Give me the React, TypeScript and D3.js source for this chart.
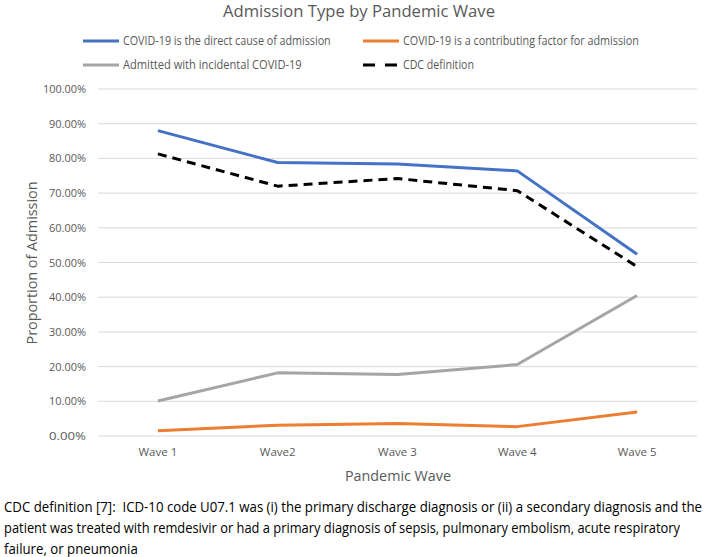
import * as React from 'react';
import * as d3 from 'd3';

const waves = ['Wave 1', 'Wave2', 'Wave 3', 'Wave 4', 'Wave 5'];
const directCause = [88.0, 78.8, 78.4, 76.4, 52.4];
const contributing = [1.5, 3.1, 3.6, 2.7, 6.9];
const incidental = [10.1, 18.2, 17.7, 20.6, 40.5];
const cdcDefinition = [81.3, 72.0, 74.2, 70.7, 48.8];
const yTicks = [0, 10, 20, 30, 40, 50, 60, 70, 80, 90, 100];

const series = [
  { name: 'COVID-19 is the direct cause of admission', values: directCause, color: '#4472C4', dash: '' },
  { name: 'COVID-19 is a contributing factor for admission', values: contributing, color: '#ED7D31', dash: '' },
  { name: 'Admitted with incidental COVID-19', values: incidental, color: '#A5A5A5', dash: '' },
  { name: 'CDC definition', values: cdcDefinition, color: '#000000', dash: '9,6' },
];

const footnote = [
  'CDC definition [7]:  ICD-10 code U07.1 was (i) the primary discharge diagnosis or (ii) a secondary diagnosis and the',
  'patient was treated with remdesivir or had a primary diagnosis of sepsis, pulmonary embolism, acute respiratory',
  'failure, or pneumonia',
];

const W = 708;
const H = 557;
const plot = { left: 98, right: 697, top: 89, bottom: 436 };
const font = '"Open Sans", sans-serif';
const textGray = '#595959';

// text squeezed horizontally to a target width (stands in for the narrow Calibri look)
function FitText(props: { x: number; y: number; width: number; size: number; fill: string; children: string }) {
  const ref = React.useRef<SVGTextElement>(null);
  React.useLayoutEffect(() => {
    const el = ref.current;
    if (!el) return;
    const natural = el.getComputedTextLength();
    const s = natural > 0 ? props.width / natural : 1;
    el.setAttribute('transform', `translate(${props.x},${props.y}) scale(${s},1)`);
  });
  return (
    <text ref={ref} transform={`translate(${props.x},${props.y})`} dy="0.35em" fontFamily={font}
      fontSize={props.size} fill={props.fill} style={{ whiteSpace: 'pre' }}>{props.children}</text>
  );
}

export default function App() {
  const x = d3.scaleBand<string>().domain(waves).range([plot.left, plot.right]);
  const y = d3.scaleLinear().domain([0, 100]).range([plot.bottom, plot.top]);
  const line = d3.line<number>()
    .x((_, i) => x(waves[i])! + x.bandwidth() / 2)
    .y(d => y(d));

  // legend slots: two columns, two rows
  const legendPos = [
    { x: 83, y: 41, w: 208 },
    { x: 363, y: 41, w: 236 },
    { x: 83, y: 65, w: 179 },
    { x: 363, y: 65, w: 71 },
  ];

  return (
    <div style={{ position: 'absolute', left: 0, top: 0 }}>
      <svg width={W} height={H} style={{ display: 'block', background: '#fff' }}>
        <text x={359} y={11} dy="0.35em" textAnchor="middle" fontFamily={font} fontSize={17}
          fill={textGray} textLength={272} lengthAdjust="spacingAndGlyphs">
          Admission Type by Pandemic Wave
        </text>

        {series.map((s, i) => {
          const p = legendPos[i];
          return (
            <g key={s.name}>
              <line x1={p.x} x2={p.x + 36} y1={p.y} y2={p.y} stroke={s.color} strokeWidth={3}
                strokeDasharray={s.dash ? '12,10' : undefined} />
              <FitText x={p.x + 40} y={p.y} width={p.w} size={12} fill={textGray}>{s.name}</FitText>
            </g>
          );
        })}

        {yTicks.map(t => (
          <g key={t}>
            <line x1={plot.left} x2={plot.right} y1={y(t)} y2={y(t)} stroke="#D9D9D9" strokeWidth={1} />
            <text x={86} y={y(t)} dy="0.35em" textAnchor="end" fontFamily={font} fontSize={11.5}
              fill={textGray} textLength={t === 100 ? 43 : 37} lengthAdjust="spacingAndGlyphs">
              {d3.format('.2f')(t) + '%'}
            </text>
          </g>
        ))}

        {waves.map(w => (
          <text key={w} x={x(w)! + x.bandwidth() / 2} y={452} dy="0.35em" textAnchor="middle"
            fontFamily={font} fontSize={11.5} fill={textGray}>{w}</text>
        ))}

        <text transform={`translate(32,263) rotate(-90)`} dy="0.35em" textAnchor="middle" fontFamily={font}
          fontSize={15} fill={textGray} textLength={163} lengthAdjust="spacingAndGlyphs">
          Proportion of Admission
        </text>
        <text x={398} y={476} dy="0.35em" textAnchor="middle" fontFamily={font} fontSize={15}
          fill={textGray} textLength={106} lengthAdjust="spacingAndGlyphs">
          Pandemic Wave
        </text>

        {series.map(s => (
          <path key={s.name} d={line(s.values)!} fill="none" stroke={s.color} strokeWidth={3}
            strokeDasharray={s.dash || undefined} strokeLinejoin="round" />
        ))}

        {footnote.map((t, i) => (
          <FitText key={i} x={4} y={507 + i * 21} width={[699, 677, 134][i]} size={15} fill="#000">{t}</FitText>
        ))}
      </svg>
    </div>
  );
}
